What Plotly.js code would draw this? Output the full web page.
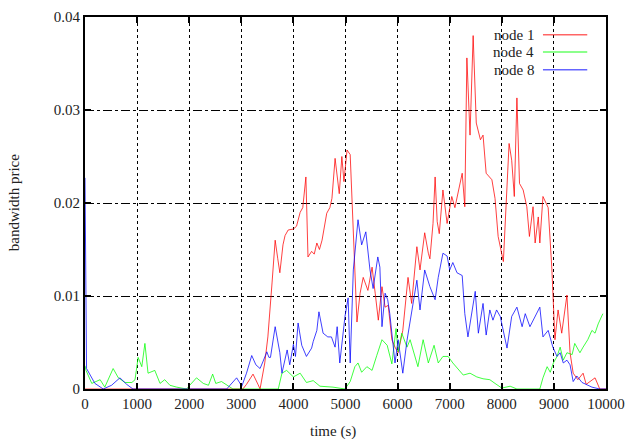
<!DOCTYPE html>
<html><head><meta charset="utf-8">
<script src="https://cdn.plot.ly/plotly-3.0.1.min.js"></script>
<style>html,body{margin:0;padding:0;background:#fff}#chart{width:627px;height:439px}</style>
</head><body><div id="chart"></div>
<script>
const seriesNames = ["node 1", "node 4", "node 8"];
const seriesColors = ["#ff0000", "#00ff00", "#0000ff"];

const node1Time = [0,3000,3030,3100,3225,3320,3360,3450,3510,3590,3650,3700,3740,3800,3840,3900,4000,4060,4130,4180,4240,4280,4350,4400,4450,4500,4550,4640,4700,4740,4800,4880,4930,4970,5030,5090,5140,5220,5280,5340,5430,5510,5570,5630,5700,5760,5820,5890,5950,6010,6100,6200,6270,6370,6430,6520,6590,6620,6680,6720,6760,6800,6870,6950,7040,7100,7240,7290,7330,7390,7450,7510,7590,7640,7700,7810,7870,7930,8030,8080,8140,8190,8240,8290,8340,8410,8480,8530,8600,8640,8700,8730,8790,8890,8960,9020,9080,9150,9250,9310,9370,9460,9560,9620,9790,9880,10000];
const node1Value = [0,0,0,0.0005,0.0016,0.0005,0,0.0028,0.0056,0.0114,0.016,0.014,0.0125,0.0155,0.0165,0.0171,0.0172,0.0175,0.019,0.0195,0.0228,0.0142,0.0148,0.0145,0.0157,0.015,0.016,0.0189,0.0195,0.0205,0.0248,0.021,0.025,0.0223,0.0257,0.0252,0.0185,0.0072,0.0103,0.012,0.0106,0.0131,0.0103,0.0074,0.011,0.0088,0.009,0.0053,0.0045,0.0039,0.0063,0.012,0.0092,0.0153,0.0128,0.0168,0.0146,0.014,0.0178,0.0228,0.018,0.0167,0.0214,0.0178,0.0207,0.0195,0.0232,0.0196,0.0356,0.0273,0.038,0.0286,0.0268,0.0273,0.0232,0.0225,0.0205,0.0164,0.0137,0.019,0.0264,0.0246,0.0207,0.0313,0.0221,0.0214,0.0196,0.0164,0.0196,0.0157,0.0185,0.0157,0.0207,0.0195,0.013,0.0053,0.0085,0.006,0.0101,0.0039,0.0017,0.001,0.0017,0.0005,0.0012,0,0];

const node4Time = [0,20,130,290,380,540,640,770,900,960,1020,1090,1150,1210,1340,1440,1530,1630,1760,1950,2010,2140,2270,2370,2450,2510,2620,2780,2840,3710,3780,3870,4000,4130,4250,4380,4510,4760,4990,5090,5180,5240,5310,5410,5510,5600,5700,5800,5890,5970,6010,6080,6180,6240,6330,6390,6490,6590,6700,6780,6870,6970,7060,7160,7260,7390,7520,7640,7770,7870,8000,8160,8290,8730,8790,8870,8930,8990,9060,9120,9180,9250,9350,9400,9500,9560,9650,9730,9790,9850,9940];
const node4Value = [0.0025,0.002,0.0006,0.001,0.0002,0.0022,0.0012,0.0007,0.0007,0.001,0.0034,0.0024,0.0049,0.0017,0.002,0.0006,0.001,0.0004,0.0002,0,0.0004,0.0012,0.0006,0.0004,0.0016,0.0006,0.0008,0.0002,0,0,0.0017,0.002,0.0013,0.0017,0.0007,0.0009,0.0003,0.0002,0,0.0008,0.0024,0.0028,0.0018,0.0024,0.002,0.0036,0.0053,0.0047,0.0027,0.0065,0.004,0.006,0.0045,0.0053,0.0035,0.0024,0.0053,0.0028,0.0047,0.0028,0.0035,0.0035,0.0028,0.0022,0.0015,0.0017,0.0013,0.0011,0.001,0.0006,0.0001,0.0003,0,0,0.0012,0.0024,0.0018,0.0028,0.0035,0.0045,0.0031,0.0039,0.0037,0.0049,0.0039,0.0045,0.0053,0.0063,0.006,0.007,0.0081];

const node8Time = [0,30,100,190,350,510,670,800,920,2720,2910,3010,3100,3200,3280,3360,3420,3490,3530,3560,3650,3740,3780,3880,3930,4000,4040,4090,4160,4250,4350,4380,4450,4490,4570,4660,4730,4800,4840,4890,4990,5050,5090,5150,5240,5310,5390,5470,5530,5620,5660,5700,5760,5810,5850,5950,6010,6080,6100,6180,6240,6310,6370,6430,6520,6620,6720,6780,6870,6950,7000,7060,7140,7240,7290,7350,7430,7490,7550,7640,7700,7770,7830,7900,7970,8030,8100,8190,8290,8390,8450,8540,8640,8730,8790,8890,8980,9060,9120,9180,9250,9310,9370,9440,9540,9630,9730,9880,10000];
const node8Value = [0.0227,0.0022,0.0015,0.0006,0,0.0004,0.0012,0.0005,0,0,0.0012,0.0003,0.0017,0.0036,0.0026,0.0022,0.003,0.004,0.0034,0.0034,0.0067,0.0039,0.0017,0.0042,0.0026,0.0048,0.0035,0.0071,0.0047,0.0035,0.0044,0.0051,0.0063,0.0083,0.006,0.0056,0.0056,0.0045,0.0067,0.0028,0.0078,0.0098,0.0028,0.0128,0.0182,0.0155,0.0169,0.0128,0.0108,0.0142,0.0131,0.0067,0.0103,0.0096,0.0081,0.0028,0.0053,0.002,0.0017,0.0052,0.0074,0.0096,0.0117,0.0085,0.0128,0.011,0.0096,0.012,0.0146,0.0143,0.0128,0.0136,0.0125,0.0122,0.0081,0.0056,0.0085,0.0105,0.006,0.0092,0.0058,0.0085,0.0074,0.0085,0.0078,0.0063,0.0044,0.0078,0.0088,0.0067,0.0081,0.0067,0.0078,0.0088,0.0056,0.0063,0.0045,0.0035,0.0039,0.0028,0.0031,0.0026,0.0008,0.0014,0.0007,0.0005,0.0002,0,0];

const xTickVals = [0,1000,2000,3000,4000,5000,6000,7000,8000,9000,10000];
const yTickVals = [0,0.01,0.02,0.03,0.04];
const xTitle = 'time (s)';
const yTitle = 'bandwidth price';

const times = [node1Time, node4Time, node8Time];
const values = [node1Value, node4Value, node8Value];

const traces = seriesNames.map((n, i) => ({
  x: times[i], y: values[i], type: 'scatter', mode: 'lines', name: n,
  line: {color: seriesColors[i], width: 1}, opacity: 0.75, showlegend: false, hoverinfo: 'skip'
}));

const font = {family: 'Liberation Serif, Times New Roman, serif', size: 15, color: '#222'};

// manual gnuplot-style legend (text on the left, sample on the right)
const legY = [0.952, 0.906, 0.858];
const annotations = seriesNames.map((n, i) => ({
  xref: 'paper', yref: 'paper', x: 0.866, y: legY[i], xanchor: 'right', yanchor: 'middle',
  text: n, showarrow: false, font: font
}));
annotations.push({xref:'paper', yref:'paper', x:0.476, y:-0.113, xanchor:'center', yanchor:'middle',
  text:xTitle, showarrow:false, font:font});
annotations.push({xref:'paper', yref:'paper', x:-0.136, y:0.5, xanchor:'center', yanchor:'middle',
  text:yTitle, textangle:-90, showarrow:false, font:font});
const shapes = [{type:'rect', xref:'paper', yref:'paper', x0:0.772, x1:0.985, y0:0.838, y1:0.975,
  fillcolor:'#fff', line:{width:0}, layer:'between'}];
seriesNames.forEach((n, i) => shapes.push({type:'line', xref:'paper', yref:'paper',
  x0:0.879, x1:0.964, y0:legY[i], y1:legY[i], line:{color:seriesColors[i], width:1.5}, opacity:0.6}));

const layout = {
  width: 627, height: 439,
  margin: {l: 85, r: 21, t: 17, b: 50},
  paper_bgcolor: '#fff', plot_bgcolor: '#fff',
  font: font,
  xaxis: {range: [0, 10000], tickvals: xTickVals, ticktext: xTickVals.map(String),
    showline: true, linecolor: '#000', linewidth: 2, mirror: 'ticks',
    ticks: 'inside', ticklen: 6, tickwidth: 2, tickcolor: '#000',
    showgrid: true, gridcolor: '#000', gridwidth: 1, griddash: 'dot', zeroline: false,
    tickfont: font},
  yaxis: {range: [0, 0.04], tickvals: yTickVals, ticktext: yTickVals.map(String),
    showline: true, linecolor: '#000', linewidth: 2, mirror: 'ticks',
    ticks: 'inside', ticklen: 6, tickwidth: 2, tickcolor: '#000',
    showgrid: true, gridcolor: '#000', gridwidth: 1, griddash: 'dashdot', zeroline: false,
    tickfont: font},
  annotations: annotations,
  shapes: shapes
};

Plotly.newPlot('chart', traces, layout, {displayModeBar: false, staticPlot: true});
</script></body></html>
